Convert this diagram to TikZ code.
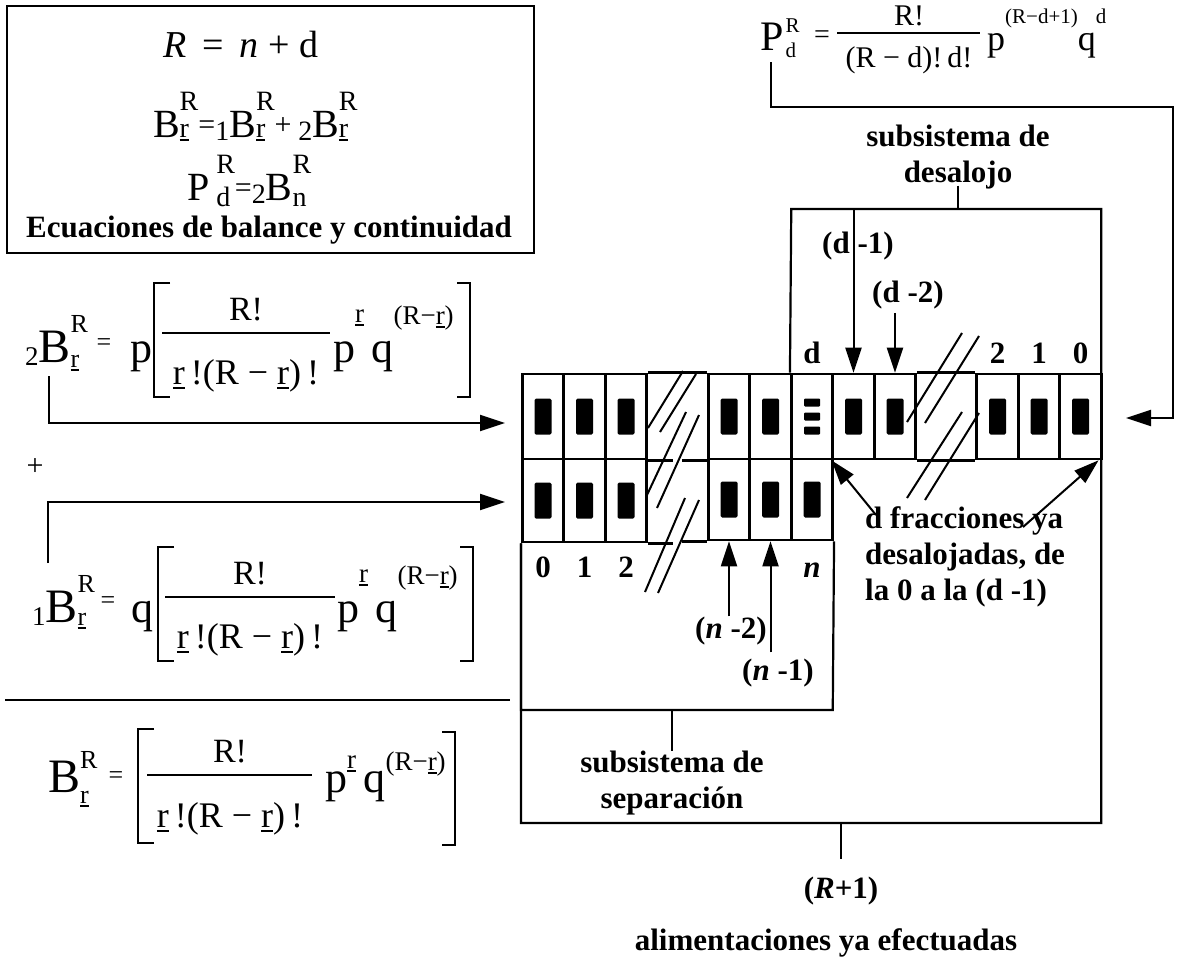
\documentclass[tikz,border=0pt]{standalone}
\usepackage{fontspec}
\setmainfont{Liberation Serif}
\usetikzlibrary{arrows.meta}

\newcommand\fs[1]{\fontsize{#1}{#1}\selectfont}
\newsavebox\ulbox
\newsavebox\supbox
\newsavebox\subbox
% underlined index r
\newcommand\ur{\sbox\ulbox{r}\rlap{\rule[-0.14em]{\wd\ulbox}{0.07em}}r}
% stacked indices: sup, sub, raise of sup, raise of sub
\newcommand\ix[4]{\sbox\supbox{#1}\sbox\subbox{#2}%
  \rlap{\raisebox{#3}{\usebox\supbox}}\rlap{\raisebox{#4}{\usebox\subbox}}%
  \ifdim\wd\supbox>\wd\subbox\hspace{\wd\supbox}\else\hspace{\wd\subbox}\fi}

\tikzset{
  cell/.style={draw, line width=2.6pt, minimum width=41.5pt, minimum height=85pt,
    path picture={\fill[rounded corners=1.5pt] ([shift={(-8.5pt,-18pt)}]path picture bounding box.center)
      rectangle ([shift={(8.5pt,18pt)}]path picture bounding box.center);}},
  cellb/.style={cell, minimum height=83pt},
  cellc/.style={cell, minimum height=81pt},
  celld/.style={draw, line width=2.6pt, minimum width=41.5pt, minimum height=85pt,
    path picture={\foreach \dy in {-14,0,14}
      \fill[rounded corners=1pt] ([shift={(-8pt,\dy pt-4pt)}]path picture bounding box.center)
      rectangle ([shift={(8pt,\dy pt+4pt)}]path picture bounding box.center);}},
}

\begin{document}
\begin{tikzpicture}[x=1pt, y=-1pt, every node/.style={inner sep=0pt},
  box/.style={line width=2.2pt},
  gline/.style={line width=2.6pt},
  bar/.style={line width=1.6pt},
  sl/.style={line width=2pt},
  arr/.style={line width=2pt, -{Triangle[length=25pt,width=16pt]}},
  lbl/.style={font=\fontsize{31}{36}\selectfont\bfseries, anchor=base}]
\useasboundingbox (0,0) rectangle (1177,959);

% balance equations
\draw[box] (7,6) rectangle (534,253);
\node[anchor=base] (eqa) at (241,57) {\fs{38}\textit{R}\, =\, \textit{n} + d};
\node[anchor=base] (eqb) at (246,137) {\fs{40}B\ix{\fs{28}R}{\fs{28}\ur}{27pt}{0pt}\raisebox{3pt}{\fs{30}=}\raisebox{-3pt}{\fs{28}1}B\ix{\fs{28}R}{\fs{28}\ur}{27pt}{0pt}\raisebox{3pt}{\fs{30}+}\,\raisebox{-3pt}{\fs{28}2}B\ix{\fs{28}R}{\fs{28}\ur}{27pt}{0pt}};
\node[anchor=base] (eqc) at (240,200) {\fs{40}P\,\ix{\fs{28}R}{\fs{28}d}{27pt}{-6pt}\raisebox{3pt}{\fs{30}=}\raisebox{-3pt}{\fs{28}2}B\ix{\fs{28}R}{\fs{28}n}{27pt}{-6pt}};
\node[lbl] (ecu) at (269,237) {Ecuaciones de balance y continuidad};

% 2B
\node[anchor=base west] (f2h) at (25,362) {\raisebox{-3pt}{\fs{27}2}\fs{48}B\ix{\fs{26}R}{\fs{26}\ur}{30pt}{-5pt}};
\node (f2eq) at (104,345) {\fs{26}=};
\node[anchor=base west] (f2p) at (130,362) {\fs{44}p};
\node[anchor=base] (f2n) at (246,320) {\fs{34}R!};
\node[anchor=base] (f2d) at (246,384) {\fs{36}\ur\,!(R − \ur)\,!};
\node[anchor=base west] (f2w) at (333,362) {\fs{44}p\raisebox{40pt}{\fs{27}\ur}\,q\raisebox{38pt}{\fs{27}(R−\ur)}};
\draw[bar] (162,333) -- (330,333);
\draw[bar] (170,283) -| (154,397) -- (170,397);
\draw[bar] (457,283) -| (470,397) -- (457,397);

\node (plus) at (35,467) {\fs{30}+};

% 1B
\node[anchor=base west] (f1h) at (32,622) {\raisebox{-3pt}{\fs{27}1}\fs{48}B\ix{\fs{26}R}{\fs{26}\ur}{30pt}{-3pt}};
\node (f1eq) at (108,603) {\fs{26}=};
\node[anchor=base west] (f1q) at (131,622) {\fs{44}q};
\node[anchor=base] (f1n) at (250,584) {\fs{34}R!};
\node[anchor=base] (f1d) at (250,648) {\fs{36}\ur\,!(R − \ur)\,!};
\node[anchor=base west] (f1w) at (337,622) {\fs{44}p\raisebox{40pt}{\fs{27}\ur}\,q\raisebox{38pt}{\fs{27}(R−\ur)}};
\draw[bar] (165,597) -- (335,597);
\draw[bar] (174,547) -| (158,661) -- (174,661);
\draw[bar] (460,547) -| (473,661) -- (460,661);

\draw[box] (5,700) -- (510,700);

% B
\node[anchor=base west] (fbh) at (48,792) {\fs{48}B\ix{\fs{26}R}{\fs{26}\ur}{24pt}{-11pt}};
\node (fbeq) at (116,778) {\fs{26}=};
\node[anchor=base] (fbn) at (230,762) {\fs{34}R!};
\node[anchor=base] (fbd) at (230,827) {\fs{36}\ur\,!(R − \ur)\,!};
\node[anchor=base west] (fbw) at (325,792) {\fs{44}p\raisebox{24pt}{\fs{27}\ur}\,q\raisebox{22pt}{\fs{27}(R−\ur)}};
\draw[bar] (147,775) -- (312,775);
\draw[bar] (154,729) -| (138,843) -- (154,843);
\draw[bar] (442,732) -| (455,845) -- (442,845);

% P
\node[anchor=base west] (pP) at (760,50) {\fs{42}P\hspace{2pt}\ix{\fs{21}R}{\fs{21}d}{18pt}{-7pt}};
\node (pEq) at (822,37) {\fs{28}=};
\node[anchor=base] (pN) at (909,25) {\fs{30}R!};
\node[anchor=base] (pD) at (909,67) {\fs{30}(R − d)!\,d!};
\draw[bar] (837,33) -- (980,33);
\node[anchor=base west] (pW) at (987,50) {\fs{36}p\raisebox{27pt}{\fs{21}(R−d+1)}q\raisebox{27pt}{\fs{21}d}};

% cells
\foreach \x/\n in {543/u0, 584.5/u1, 626/u2, 729/un2, 770.5/un1, 853.5/ue1, 895/ue2, 997.5/r2, 1039/r1, 1080.5/r0}
  \node[cell] (\n) at (\x,416.5) {};
\node[celld] (ud) at (812,416.5) {};
\foreach \x/\n in {543/l0, 584.5/l1, 626/l2}
  \node[cellb] (\n) at (\x,500.5) {};
\foreach \x/\n in {729/ln2, 770.5/ln1, 812/lnn}
  \node[cellc] (\n) at (\x,499.5) {};

\draw[gline] (u2.north east) -- (un2.north west);
\draw[gline] (u2.south east) -- ++(25,0);
\draw[gline] (un2.south west) -- ++(-25,0);
\draw[gline] (l2.south east) -- ++(25,0);
\draw[gline] (ln2.south west) -- ++(-25,0);
\draw[gline] (ue2.north east) -- (r2.north west);
\draw[gline] (ue2.south east) -- (r2.south west);

% breaks
\draw[sl] (648,428) -- (683,371);
\draw[sl] (660,432) -- (696,374);
\draw[sl] (647,495) -- (686,412);
\draw[sl] (657,508) -- (699,415);
\draw[sl] (645,592) -- (685,498);
\draw[sl] (658,593) -- (699,500);
\draw[sl] (907,422) -- (962,333);
\draw[sl] (925,423) -- (979,336);
\draw[sl] (907,498) -- (962,412);
\draw[sl] (925,500) -- (979,413);

% subsystems
\coordinate (dsTL) at (791.25,209);
\coordinate (oBR) at (1101.25,823);
\coordinate (sepBR) at (832.75,710);
\draw[box] (ud.north west) -- (dsTL) -| (oBR) -| (l0.south west);
\draw[box] (l0.south west) |- (sepBR) -- (lnn.south east);

% labels
\foreach \x/\t in {543/0, 584.5/1, 626/2}
  \node[lbl] (tl\t) at (\x,577) {\t};
\node[lbl] (tn) at (812,577) {\textit{n}};
\node[lbl] (td) at (812,363) {d};
\foreach \x/\t in {997.5/2, 1039/1, 1080.5/0}
  \node[lbl] (tr\t) at (\x,363) {\t};
\node[lbl, anchor=north, align=center] (desl) at (958,125) {subsistema de\\desalojo};
\node[lbl, anchor=north, align=center] (sepl) at (672,751) {subsistema de\\separación};
\node[lbl, anchor=north west, align=left] (fracl) at (865,506) {d fracciones ya\\desalojadas, de\\la 0 a la (d -1)};
\node[lbl, anchor=base west] (dm1) at (822,253) {(d -1)};
\node[lbl, anchor=base west] (dm2) at (872,302) {(d -2)};
\node[lbl, anchor=base west] (nm2) at (695,638) {(\textit{n} -2)};
\node[lbl, anchor=base west] (nm1) at (742,680) {(\textit{n} -1)};
\node[lbl] (rp) at (841,898) {(\textit{R}+1)};
\node[lbl] (alim) at (826,950) {alimentaciones ya efectuadas};

\draw[box] ([yshift=4pt]desl.south) -- (desl.south |- dsTL);
\draw[box] (sepl.north |- sepBR) -- (sepl.north);
\draw[box, shorten >=17pt] (rp.north |- oBR) -- (rp.north);

% arrows
\draw[arr] (ue1.north |- dsTL) -- (ue1.north);
\draw[arr] ([yshift=-4pt]dm2.south -| ue2.north) -- (ue2.north);
\draw[arr] (ln2.south |- nm2.north) -- (ln2.south);
\draw[arr] ([yshift=6pt]nm1.north -| ln1.south) -- (ln1.south);
\coordinate (fa) at (876,515);
\coordinate (fb) at (1023,527);
\draw[arr] (fa) -- (ue1.south west);
\draw[arr] (fb) -- ([xshift=-4pt]r0.south east);

\coordinate (o2) at (49,376);
\coordinate (in2) at (505,423);
\coordinate (o1) at (48,563);
\coordinate (in1) at (505,502);
\coordinate (o3) at (771,62);
\coordinate (pk) at (1173,107);
\coordinate (in3) at (1126,418);
\draw[arr] (o2) |- (in2);
\draw[arr] (o1) |- (in1);
\draw[arr] (o3) |- (pk) |- (in3);
\end{tikzpicture}
\end{document}
